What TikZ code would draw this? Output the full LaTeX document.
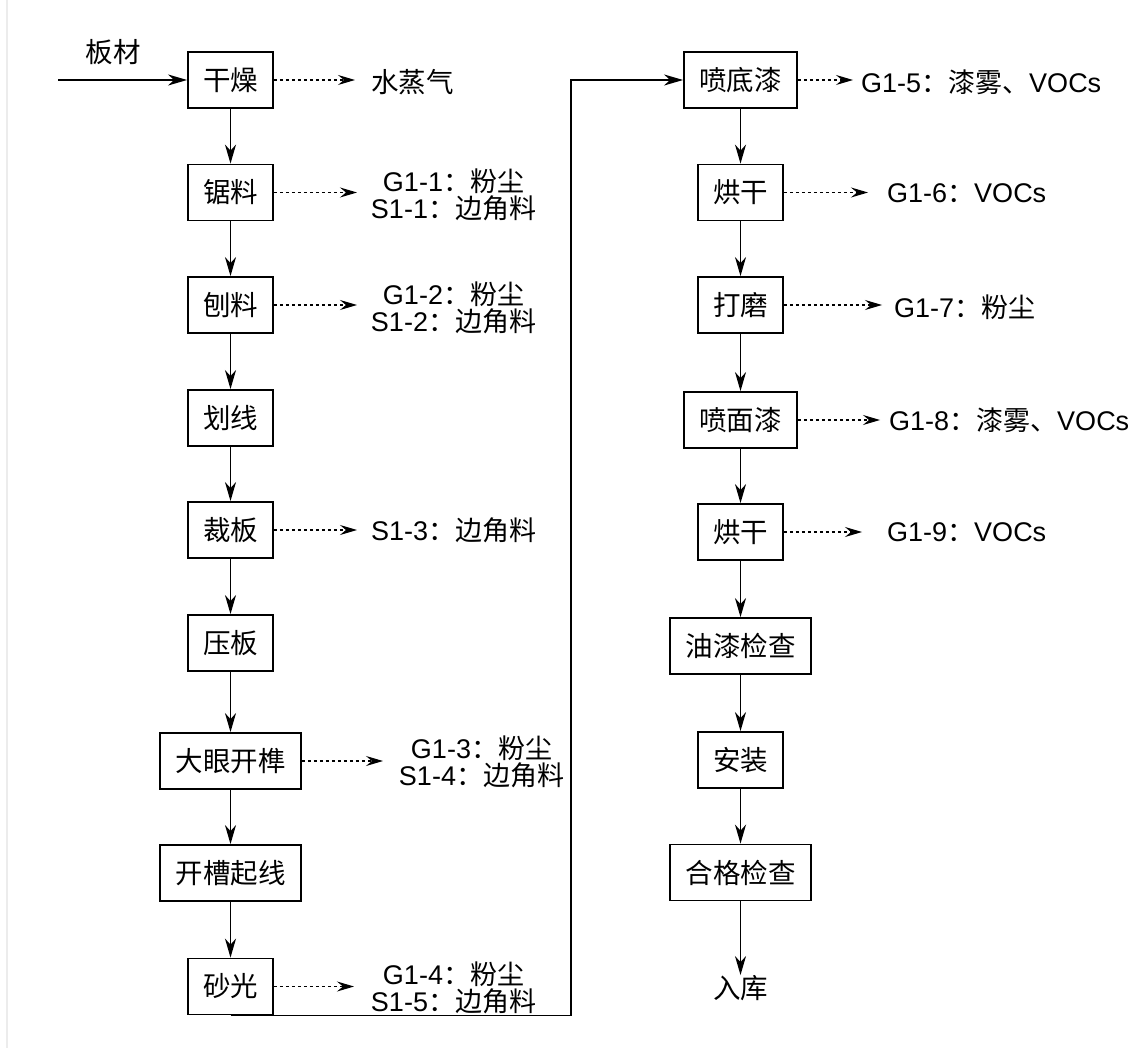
\documentclass[tikz,border=0pt]{standalone}
\usepackage{fontspec}
\setmainfont{Liberation Sans}
\newfontfamily\cjk{Noto Sans CJK SC}
\usetikzlibrary{arrows.meta}
\newcommand\zh[1]{{\cjk #1}}
\begin{document}
\begin{tikzpicture}[x=1pt,y=-1pt,
  box/.style={draw, line width=1.8pt, minimum height=56pt, inner sep=0pt, font=\cjk\fontsize{27.5}{29}\selectfont},
  wtwo/.style={minimum width=85pt},
  wthree/.style={minimum width=113pt},
  wfour/.style={minimum width=141pt},
  flow/.style={-{Stealth[length=19pt,width=11pt,inset=6pt]}, line width=1.8pt},
  emit/.style={-{Stealth[length=17pt,width=10pt,inset=6pt]}, line width=1.2pt, dash pattern=on 3.5pt off 2.5pt},
  lbl/.style={font=\fontsize{27}{27}\selectfont, inner sep=0pt, align=center},
  lblw/.style={lbl, anchor=west},
  zhl/.style={font=\cjk\fontsize{27.5}{29}\selectfont}
]
\useasboundingbox (0,0) rectangle (1132,1048);
\draw[gray!15, line width=1.5pt] (7,0) -- (7,1048);
% left column
\node[box,wtwo]  (gz) at (230.5,80)  {干燥};
\node[box,wtwo]  (jl) at (230.5,192.5) {锯料};
\node[box,wtwo]  (bl) at (230.5,305) {刨料};
\node[box,wtwo]  (hx) at (230.5,418) {划线};
\node[box,wtwo]  (cb) at (230.5,530) {裁板};
\node[box,wtwo]  (yb) at (230.5,643) {压板};
\node[box,wfour] (dy) at (230.5,761) {大眼开榫};
\node[box,wfour] (kc) at (230.5,873) {开槽起线};
\node[box,wtwo]  (sg) at (230.5,986.5) {砂光};
% right column
\node[box,wthree] (pd) at (740.5,80)  {喷底漆};
\node[box,wtwo]   (hg1) at (740.5,192.5) {烘干};
\node[box,wtwo]   (dm) at (740.5,305) {打磨};
\node[box,wthree] (pm) at (740.5,420) {喷面漆};
\node[box,wtwo]   (hg2) at (740.5,532) {烘干};
\node[box,wfour]  (yq) at (740.5,646) {油漆检查};
\node[box,wtwo]   (az) at (740.5,760) {安装};
\node[box,wfour]  (hj) at (740.5,872.5) {合格检查};
\node[lbl,zhl] (rk) at (740.5,988) {入库};
% input
\coordinate (in) at (58,80);
\node[lbl,zhl] (bc) at (113,52) {板材};
\draw[flow] (in) -- (gz.west);
% main flow
\draw[flow] (gz) -- (jl);
\draw[flow] (jl) -- (bl);
\draw[flow] (bl) -- (hx);
\draw[flow] (hx) -- (cb);
\draw[flow] (cb) -- (yb);
\draw[flow] (yb) -- (dy);
\draw[flow] (dy) -- (kc);
\draw[flow] (kc) -- (sg);
\coordinate (up) at (571,80);
\draw[flow] (sg.south) -| (up) -- (pd.west);
\draw[flow] (pd) -- (hg1);
\draw[flow] (hg1) -- (dm);
\draw[flow] (dm) -- (pm);
\draw[flow] (pm) -- (hg2);
\draw[flow] (hg2) -- (yq);
\draw[flow] (yq) -- (az);
\draw[flow] (az) -- (hj);
\draw[flow] (hj) -- (rk.north);
% emissions left
\coordinate (e1) at (355,80);
\draw[emit] (gz.east) -- (e1);
\node[lblw,zhl] (t1) at (371,82) {水蒸气};
\coordinate (e2) at (357,192.5);
\draw[emit] (jl.east) -- (e2);
\node[lbl] (t2) at (453.5,195) {G1-1\zh{：粉尘}\\S1-1\zh{：边角料}};
\coordinate (e3) at (357,305);
\draw[emit] (bl.east) -- (e3);
\node[lbl] (t3) at (453.5,307.5) {G1-2\zh{：粉尘}\\S1-2\zh{：边角料}};
\coordinate (e4) at (357,530);
\draw[emit] (cb.east) -- (e4);
\node[lblw] (t4) at (371,530) {S1-3\zh{：边角料}};
\coordinate (e5) at (383,761);
\draw[emit] (dy.east) -- (e5);
\node[lbl] (t5) at (481.5,762) {G1-3\zh{：粉尘}\\S1-4\zh{：边角料}};
\coordinate (e6) at (354,986.5);
\draw[emit] (sg.east) -- (e6);
\node[lbl] (t6) at (453.5,988) {G1-4\zh{：粉尘}\\S1-5\zh{：边角料}};
% emissions right
\coordinate (f1) at (853,80);
\draw[emit] (pd.east) -- (f1);
\node[lblw] (u1) at (861,82) {G1-5\zh{：漆雾、}VOCs};
\coordinate (f2) at (868,192.5);
\draw[emit] (hg1.east) -- (f2);
\node[lblw] (u2) at (887,193) {G1-6\zh{：}VOCs};
\coordinate (f3) at (882,305);
\draw[emit] (dm.east) -- (f3);
\node[lblw] (u3) at (894,307) {G1-7\zh{：粉尘}};
\coordinate (f4) at (880,420);
\draw[emit] (pm.east) -- (f4);
\node[lblw] (u4) at (889,420) {G1-8\zh{：漆雾、}VOCs};
\coordinate (f5) at (862,532);
\draw[emit] (hg2.east) -- (f5);
\node[lblw] (u5) at (887,532) {G1-9\zh{：}VOCs};
\end{tikzpicture}
\end{document}
